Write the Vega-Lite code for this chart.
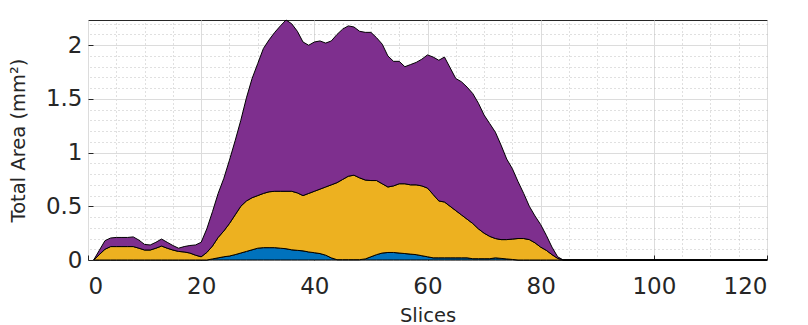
{
  "$schema": "https://vega.github.io/schema/vega-lite/v6.json",
  "width": 679,
  "height": 240,
  "autosize": {"type": "none"},
  "padding": {"left": 88, "top": 20, "right": 41, "bottom": 65},
  "background": "white",
  "config": {
    "view": {"stroke": "#262626", "strokeWidth": 1},
    "font": "DejaVu Sans"
  },
  "data": {
    "values": [
      {"x":1,"a":0,"b":0,"c":0},
      {"x":2,"a":0,"b":0.05,"c":0.04},
      {"x":3,"a":0,"b":0.10,"c":0.08},
      {"x":4,"a":0,"b":0.125,"c":0.08},
      {"x":5,"a":0,"b":0.125,"c":0.085},
      {"x":6,"a":0,"b":0.125,"c":0.085},
      {"x":7,"a":0,"b":0.125,"c":0.085},
      {"x":8,"a":0,"b":0.125,"c":0.09},
      {"x":9,"a":0,"b":0.11,"c":0.075},
      {"x":10,"a":0,"b":0.093,"c":0.052},
      {"x":11,"a":0,"b":0.093,"c":0.047},
      {"x":12,"a":0,"b":0.11,"c":0.055},
      {"x":13,"a":0,"b":0.13,"c":0.065},
      {"x":14,"a":0,"b":0.11,"c":0.055},
      {"x":15,"a":0,"b":0.093,"c":0.042},
      {"x":16,"a":0,"b":0.08,"c":0.03},
      {"x":17,"a":0,"b":0.075,"c":0.05},
      {"x":18,"a":0,"b":0.065,"c":0.07},
      {"x":19,"a":0,"b":0.045,"c":0.095},
      {"x":20,"a":0,"b":0.03,"c":0.135},
      {"x":21,"a":0,"b":0.07,"c":0.22},
      {"x":22,"a":0.01,"b":0.12,"c":0.32},
      {"x":23,"a":0.02,"b":0.19,"c":0.41},
      {"x":24,"a":0.03,"b":0.24,"c":0.49},
      {"x":25,"a":0.037,"b":0.303,"c":0.59},
      {"x":26,"a":0.05,"b":0.37,"c":0.69},
      {"x":27,"a":0.065,"b":0.435,"c":0.80},
      {"x":28,"a":0.08,"b":0.47,"c":0.96},
      {"x":29,"a":0.095,"b":0.485,"c":1.11},
      {"x":30,"a":0.11,"b":0.49,"c":1.23},
      {"x":31,"a":0.115,"b":0.505,"c":1.35},
      {"x":32,"a":0.115,"b":0.52,"c":1.415},
      {"x":33,"a":0.115,"b":0.525,"c":1.48},
      {"x":34,"a":0.11,"b":0.53,"c":1.54},
      {"x":35,"a":0.105,"b":0.535,"c":1.595},
      {"x":36,"a":0.095,"b":0.545,"c":1.56},
      {"x":37,"a":0.09,"b":0.535,"c":1.505},
      {"x":38,"a":0.085,"b":0.515,"c":1.43},
      {"x":39,"a":0.075,"b":0.545,"c":1.38},
      {"x":40,"a":0.068,"b":0.572,"c":1.39},
      {"x":41,"a":0.06,"b":0.60,"c":1.38},
      {"x":42,"a":0.045,"b":0.635,"c":1.34},
      {"x":43,"a":0.02,"b":0.68,"c":1.34},
      {"x":44,"a":0.003,"b":0.717,"c":1.38},
      {"x":45,"a":0.003,"b":0.747,"c":1.40},
      {"x":46,"a":0.003,"b":0.777,"c":1.40},
      {"x":47,"a":0.003,"b":0.787,"c":1.38},
      {"x":48,"a":0.003,"b":0.762,"c":1.365},
      {"x":49,"a":0.01,"b":0.735,"c":1.375},
      {"x":50,"a":0.03,"b":0.71,"c":1.38},
      {"x":51,"a":0.05,"b":0.69,"c":1.33},
      {"x":52,"a":0.065,"b":0.645,"c":1.30},
      {"x":53,"a":0.07,"b":0.61,"c":1.22},
      {"x":54,"a":0.07,"b":0.62,"c":1.16},
      {"x":55,"a":0.065,"b":0.645,"c":1.14},
      {"x":56,"a":0.06,"b":0.65,"c":1.09},
      {"x":57,"a":0.055,"b":0.645,"c":1.12},
      {"x":58,"a":0.05,"b":0.65,"c":1.14},
      {"x":59,"a":0.04,"b":0.65,"c":1.18},
      {"x":60,"a":0.03,"b":0.64,"c":1.24},
      {"x":61,"a":0.02,"b":0.59,"c":1.28},
      {"x":62,"a":0.02,"b":0.53,"c":1.31},
      {"x":63,"a":0.02,"b":0.52,"c":1.35},
      {"x":64,"a":0.02,"b":0.48,"c":1.29},
      {"x":65,"a":0.02,"b":0.44,"c":1.23},
      {"x":66,"a":0.02,"b":0.40,"c":1.24},
      {"x":67,"a":0.02,"b":0.36,"c":1.23},
      {"x":68,"a":0.012,"b":0.328,"c":1.21},
      {"x":69,"a":0.012,"b":0.278,"c":1.17},
      {"x":70,"a":0.012,"b":0.238,"c":1.10},
      {"x":71,"a":0.012,"b":0.208,"c":1.05},
      {"x":72,"a":0.02,"b":0.18,"c":0.99},
      {"x":73,"a":0.015,"b":0.175,"c":0.88},
      {"x":74,"a":0.01,"b":0.18,"c":0.75},
      {"x":75,"a":0.005,"b":0.19,"c":0.655},
      {"x":76,"a":0,"b":0.20,"c":0.53},
      {"x":77,"a":0,"b":0.20,"c":0.42},
      {"x":78,"a":0,"b":0.19,"c":0.31},
      {"x":79,"a":0,"b":0.16,"c":0.25},
      {"x":80,"a":0,"b":0.12,"c":0.21},
      {"x":81,"a":0,"b":0.09,"c":0.14},
      {"x":82,"a":0,"b":0.05,"c":0.07},
      {"x":83,"a":0,"b":0.015,"c":0.015},
      {"x":84,"a":0,"b":0,"c":0},
      {"x":90,"a":0,"b":0,"c":0},
      {"x":100,"a":0,"b":0,"c":0},
      {"x":110,"a":0,"b":0,"c":0},
      {"x":120,"a":0,"b":0,"c":0}
    ]
  },
  "layer": [
    {
      "mark": {"type": "point", "opacity": 0},
      "encoding": {
        "x": {
          "field": "x", "type": "quantitative",
          "scale": {"domain": [0, 120], "nice": false, "zero": false},
          "axis": {
            "orient": "top", "values": [5,10,15,25,30,35,45,50,55,65,70,75,85,90,95,105,110,115],
            "grid": true, "gridColor": "#c0c0c0", "gridDash": [1, 3], "gridWidth": 1,
            "labels": false, "ticks": false, "domain": false, "title": null
          }
        },
        "y": {
          "field": "c", "type": "quantitative",
          "scale": {"domain": [0, 2.235], "nice": false},
          "axis": {
            "orient": "right",
            "values": [0.1,0.2,0.3,0.4,0.6,0.7,0.8,0.9,1.1,1.2,1.3,1.4,1.6,1.7,1.8,1.9,2.1,2.2],
            "grid": true, "gridColor": "#c0c0c0", "gridDash": [1, 3], "gridWidth": 1,
            "labels": false, "ticks": false, "domain": false, "title": null
          }
        }
      }
    },
    {
      "transform": [{"fold": ["a", "b", "c"], "as": ["key", "value"]}],
      "mark": {"type": "area", "interpolate": "linear", "stroke": "#000000", "strokeWidth": 1, "fillOpacity": 1},
      "encoding": {
        "x": {
          "field": "x", "type": "quantitative",
          "axis": {
            "orient": "bottom", "values": [0, 20, 40, 60, 80, 100, 120],
            "grid": true, "gridColor": "#dcdcdc", "gridWidth": 1,
            "domain": false, "ticks": true, "tickSize": -5, "tickColor": "#262626",
            "labelFont": "DejaVu Sans", "labelFontSize": 23, "labelColor": "#262626",
            "labelPadding": 20,
            "title": "Slices", "titleFont": "DejaVu Sans", "titleFontSize": 19.5, "titleFontWeight": "normal",
            "titleColor": "#262626", "titleX": 339.5, "titleY": 55, "titleBaseline": "middle"
          }
        },
        "y": {
          "field": "value", "type": "quantitative", "stack": "zero",
          "axis": {
            "orient": "left", "values": [0, 0.5, 1, 1.5, 2], "format": "~g",
            "grid": true, "gridColor": "#dcdcdc", "gridWidth": 1,
            "domain": false, "ticks": true, "tickSize": -5, "tickColor": "#262626",
            "labelFont": "DejaVu Sans", "labelFontSize": 23, "labelColor": "#262626",
            "labelPadding": 11,
            "title": "Total Area (mm²)", "titleFont": "DejaVu Sans", "titleFontSize": 19.5, "titleFontWeight": "normal",
            "titleColor": "#262626", "titleX": -70, "titleY": 120, "titleBaseline": "middle", "titleAngle": -90
          }
        },
        "color": {
          "field": "key", "type": "nominal",
          "scale": {"domain": ["a", "b", "c"], "range": ["#0072BD", "#EDB120", "#7E2F8E"]},
          "legend": null
        },
        "order": {"field": "key", "sort": "ascending"}
      }
    }
  ],
  "resolve": {"axis": {"x": "independent", "y": "independent"}}
}
